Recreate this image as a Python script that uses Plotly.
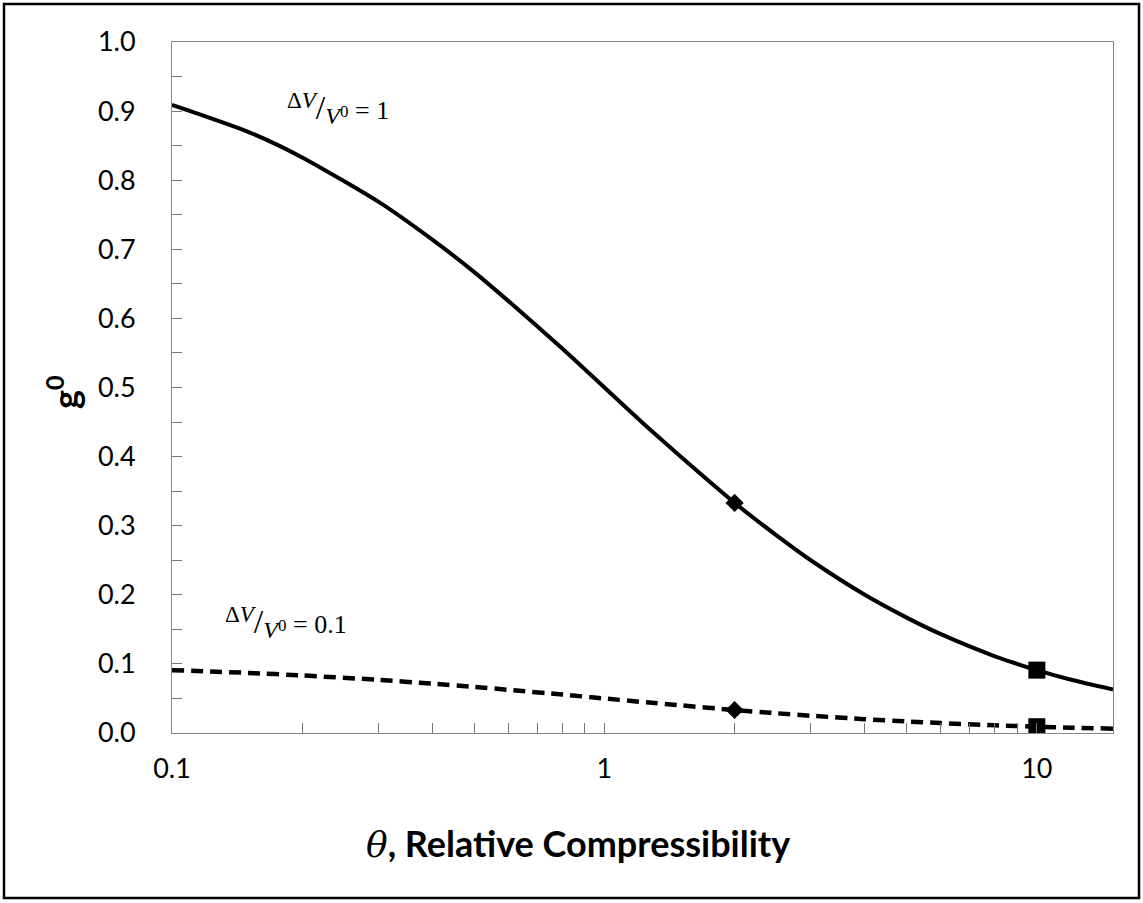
import plotly.graph_objects as go

# Values
theta = [0.1, 0.15, 0.2, 0.3, 0.4, 0.5, 0.6, 0.8, 1.0, 1.25, 1.5, 2.0, 2.5, 3.0, 4.0, 5.0, 6.0, 8.0, 10.0, 12.0, 15.0]
g_dv1 = [0.909, 0.870, 0.833, 0.769, 0.714, 0.667, 0.625, 0.556, 0.500, 0.444, 0.400, 0.333,
         0.286, 0.250, 0.200, 0.167, 0.143, 0.111, 0.091, 0.077, 0.063]
g_dv01 = [0.0909, 0.0870, 0.0833, 0.0769, 0.0714, 0.0667, 0.0625, 0.0556, 0.0500, 0.0444, 0.0400, 0.0333,
          0.0286, 0.0250, 0.0200, 0.0167, 0.0143, 0.0111, 0.0091, 0.0077, 0.0063]

diamond_theta = [2.0, 2.0]
diamond_g = [0.333, 0.0333]
square_theta = [10.0, 10.0]
square_g = [0.091, 0.0091]

y_tick_vals = [i * 0.05 for i in range(21)]
y_tick_text = [f"{v:.1f}" if i % 2 == 0 else "" for i, v in enumerate(y_tick_vals)]
x_tick_vals = [0.1, 0.2, 0.3, 0.4, 0.5, 0.6, 0.7, 0.8, 0.9, 1, 2, 3, 4, 5, 6, 7, 8, 9, 10]
x_tick_text = ["0.1", "", "", "", "", "", "", "", "", "1", "", "", "", "", "", "", "", "", "10"]

label_values = ["1", "0.1"]

fig = go.Figure()
fig.add_trace(go.Scatter(x=theta, y=g_dv1, mode="lines",
                         line=dict(color="black", width=4, shape="spline", smoothing=0.6),
                         showlegend=False))
fig.add_trace(go.Scatter(x=theta, y=g_dv01, mode="lines",
                         line=dict(color="black", width=4.5, dash="12px,7px", shape="spline", smoothing=0.6),
                         showlegend=False))
fig.add_trace(go.Scatter(x=diamond_theta, y=diamond_g, mode="markers",
                         marker=dict(symbol="diamond", size=14, color="black"), showlegend=False))
fig.add_trace(go.Scatter(x=square_theta, y=square_g, mode="markers",
                         marker=dict(symbol="square", size=17, color="black"), showlegend=False))

L, R, T, B = 172, 30, 42, 170
W, H = 1143, 903
pw, ph = W - L - R, H - T - B

fig.update_layout(
    width=W, height=H,
    margin=dict(l=L, r=R, t=T, b=B),
    paper_bgcolor="white", plot_bgcolor="white",
    font=dict(family="Lato, 'Open Sans', sans-serif", color="black"),
    xaxis=dict(type="log", range=[-1, 1.1761], tickvals=x_tick_vals, ticktext=x_tick_text,
               ticks="inside", ticklen=10, tickcolor="#777", tickwidth=1,
               showline=True, linecolor="#888", linewidth=1, mirror=True,
               showgrid=False, zeroline=False,
               tickfont=dict(size=27, family="Lato, sans-serif", color="black"),
               ticklabelstandoff=12),
    yaxis=dict(range=[0, 1.0], tickvals=y_tick_vals, ticktext=y_tick_text,
               ticks="inside", ticklen=10, tickcolor="#777", tickwidth=1,
               showline=True, linecolor="#888", linewidth=1, mirror=True,
               showgrid=False, zeroline=False,
               tickfont=dict(size=27, family="Lato, sans-serif", color="black"),
               ticklabelstandoff=30),
)

fig.add_annotation(
    x=(578 - L) / pw, y=(H - B - 843) / ph, xref="paper", yref="paper",
    text="<span style=\"font-family:'DejaVu Serif'\"><i>θ</i></span><b>, Relative Compressibility</b>",
    showarrow=False, font=dict(size=36, family="Lato, sans-serif", color="black"),
    xanchor="center", yanchor="middle")
fig.add_annotation(
    x=(63 - L) / pw, y=(H - B - 392) / ph, xref="paper", yref="paper",
    text="<b>g<sup>0</sup></b>", textangle=-90,
    showarrow=False, font=dict(size=36, family="Lato, sans-serif", color="black"),
    xanchor="center", yanchor="middle")


def ratio_label(val):
    return ("<sup><span style=\"font-size:23px\">Δ<i>V</i></span></sup>"
            "<span style=\"font-size:34px\">/</span>"
            "<sub><span style=\"font-size:24px\"><i>V</i></span>"
            "<sup><span style=\"font-size:17px\">0</span></sup></sub>"
            f"<span style=\"font-size:26px\"> = {val}</span>")


label_x = [285, 223]
label_y = [108, 622]
for val, lx, ly in zip(label_values, label_x, label_y):
    fig.add_annotation(
        x=(lx - L) / pw, y=(H - B - ly) / ph, xref="paper", yref="paper",
        text=ratio_label(val),
        showarrow=False, font=dict(size=26, family="'Liberation Serif', serif", color="black"),
        xanchor="left", yanchor="middle")

# outer frame of the image
fig.add_shape(type="rect", xref="paper", yref="paper",
              x0=(4 - L) / pw, x1=(1139 - L) / pw,
              y0=(H - B - 898) / ph, y1=(H - B - 4) / ph,
              line=dict(color="black", width=2.5), fillcolor="rgba(0,0,0,0)", layer="below")

fig.write_html("out.html")
